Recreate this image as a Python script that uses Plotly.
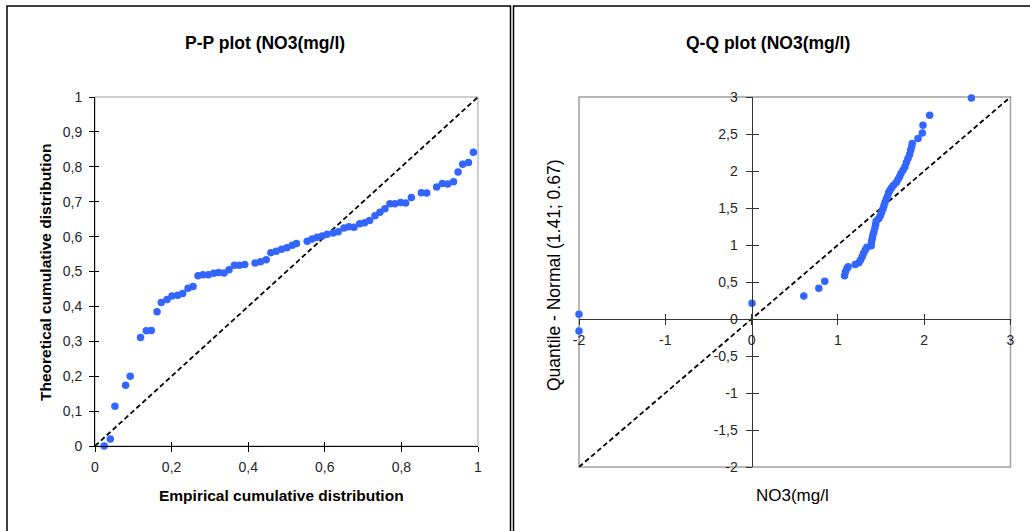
import plotly.graph_objects as go

W, H = 1030, 531

# ---------------- data ----------------
pp_empirical = [0.024, 0.040, 0.052, 0.080, 0.092, 0.119, 0.134, 0.147, 0.162, 0.173,
                0.188, 0.201, 0.216, 0.229, 0.243, 0.256, 0.269, 0.282, 0.296, 0.310,
                0.323, 0.337, 0.350, 0.364, 0.377, 0.391, 0.418, 0.432, 0.447, 0.459,
                0.473, 0.487, 0.501, 0.515, 0.526, 0.554, 0.567, 0.580, 0.593, 0.606,
                0.622, 0.635, 0.650, 0.663, 0.676, 0.691, 0.704, 0.717, 0.731, 0.744,
                0.757, 0.770, 0.783, 0.798, 0.811, 0.826, 0.852, 0.866, 0.892, 0.907,
                0.921, 0.936, 0.948, 0.960, 0.975, 0.988]
pp_theoretical = [0.000, 0.020, 0.114, 0.174, 0.200, 0.311, 0.330, 0.331, 0.385, 0.411,
                  0.420, 0.430, 0.432, 0.437, 0.452, 0.457, 0.488, 0.491, 0.491, 0.495,
                  0.497, 0.496, 0.505, 0.518, 0.518, 0.520, 0.524, 0.528, 0.534, 0.554,
                  0.558, 0.564, 0.568, 0.575, 0.580, 0.587, 0.593, 0.598, 0.602, 0.607,
                  0.610, 0.614, 0.625, 0.628, 0.627, 0.637, 0.640, 0.646, 0.660, 0.670,
                  0.680, 0.694, 0.694, 0.698, 0.696, 0.712, 0.726, 0.725, 0.742, 0.752,
                  0.751, 0.757, 0.785, 0.807, 0.812, 0.842]
pp_diag = [0, 1]

qq_no3 = [-2.0, -2.0, 0.005, 0.605, 0.779, 0.848, 1.077, 1.088, 1.104, 1.119,
          1.200, 1.243, 1.262, 1.282, 1.297, 1.317, 1.336, 1.386, 1.390, 1.398,
          1.406, 1.417, 1.429, 1.437, 1.444, 1.475, 1.491, 1.506, 1.522, 1.533,
          1.545, 1.560, 1.576, 1.587, 1.603, 1.622, 1.645, 1.676, 1.696, 1.715,
          1.731, 1.754, 1.777, 1.793, 1.812, 1.831, 1.843, 1.854, 1.862, 1.928,
          1.978, 1.986, 2.063, 2.547]
qq_normal = [0.064, -0.161, 0.212, 0.311, 0.415, 0.509, 0.585, 0.639, 0.684, 0.707,
             0.738, 0.761, 0.797, 0.842, 0.887, 0.932, 0.968, 0.990, 1.044, 1.089,
             1.134, 1.179, 1.233, 1.278, 1.323, 1.359, 1.395, 1.440, 1.485, 1.530,
             1.575, 1.620, 1.660, 1.705, 1.741, 1.772, 1.808, 1.844, 1.885, 1.921,
             1.966, 2.011, 2.056, 2.114, 2.168, 2.222, 2.281, 2.326, 2.371, 2.438,
             2.514, 2.618, 2.753, 2.987]
qq_diag = [-2, 3]

qq_xticks = [-2, -1, 0, 1, 2, 3]
qq_xtext = ["-2", "-1", "0", "1", "2", "3"]
qq_yticks = [-2, -1.5, -1, -0.5, 0, 0.5, 1, 1.5, 2, 2.5, 3]
qq_ytext = ["-2", "-1,5", "-1", "-0,5", "0", "0,5", "1", "1,5", "2", "2,5", "3"]

# ---------------- styles ----------------
FONT = "Liberation Sans, Arial, sans-serif"
BLUE = "rgb(51,102,255)"
TICKFONT = dict(family=FONT, size=14, color="#262626")
DASH = dict(color="black", width=1.8, dash="5px,3px")


def px_x(p):
    return p / W


def px_y(p):
    return 1 - p / H


# plot area pixels
L_x0, L_x1, L_y0, L_y1 = 95, 478, 97, 446
R_x0, R_x1, R_y0, R_y1 = 579, 1010.5, 97, 467

fig = go.Figure()

fig.add_trace(go.Scatter(x=pp_diag, y=pp_diag, mode="lines", line=DASH,
                         xaxis="x", yaxis="y", hoverinfo="skip", cliponaxis=False))
fig.add_trace(go.Scatter(x=pp_empirical, y=pp_theoretical, mode="markers",
                         marker=dict(color=BLUE, size=7.5),
                         xaxis="x", yaxis="y", cliponaxis=False))

fig.add_trace(go.Scatter(x=qq_diag, y=qq_diag, mode="lines", line=DASH,
                         xaxis="x2", yaxis="y2", hoverinfo="skip", cliponaxis=False))
fig.add_trace(go.Scatter(x=qq_no3, y=qq_normal, mode="markers",
                         marker=dict(color=BLUE, size=7.5),
                         xaxis="x2", yaxis="y2", cliponaxis=False))

Ldx = [px_x(L_x0), px_x(L_x1)]
Ldy = [px_y(L_y1), px_y(L_y0)]
Rdx = [px_x(R_x0), px_x(R_x1)]
Rdy = [px_y(R_y1), px_y(R_y0)]

common = dict(showgrid=False, zeroline=False, tickfont=TICKFONT, fixedrange=True,
              automargin=False)

x_zero_pos = px_y(R_y0 + (R_y1 - R_y0) * 3 / 5)
y_zero_pos = px_x(R_x0 + (R_x1 - R_x0) * 2 / 5)

fig.update_layout(
    width=W, height=H, autosize=False,
    margin=dict(l=0, r=0, t=0, b=0, pad=0, autoexpand=False),
    paper_bgcolor="white", plot_bgcolor="white",
    showlegend=False,
    separators=", ",
    font=dict(family=FONT, size=12, color="#222"),
    # ---- P-P plot ----
    xaxis=dict(domain=Ldx, anchor="y", range=[0, 1], dtick=0.2, tick0=0,
               showline=True, linecolor="black", linewidth=1,
               ticks="outside", ticklen=5, tickcolor="black", ticklabelstandoff=3,
               **common),
    yaxis=dict(domain=Ldy, anchor="x", range=[0, 1], dtick=0.1, tick0=0,
               showline=True, linecolor="black", linewidth=1,
               ticks="outside", ticklen=5, tickcolor="black", ticklabelstandoff=4,
               **common),
    xaxis3=dict(overlaying="x", anchor="y", range=[0, 1], dtick=0.2, tick0=0,
                showline=False, ticks="inside", ticklen=4, tickcolor="black",
                showticklabels=False, **common),
    yaxis3=dict(overlaying="y", anchor="x", range=[0, 1], dtick=0.1, tick0=0,
                showline=False, ticks="inside", ticklen=4, tickcolor="black",
                showticklabels=False, **common),
    # ---- Q-Q plot ----
    xaxis2=dict(domain=Rdx, anchor="free", position=x_zero_pos, range=[-2, 3],
                tickvals=qq_xticks, ticktext=qq_xtext,
                showline=True, linecolor="#333", linewidth=1,
                ticks="outside", ticklen=5, tickcolor="#333", ticklabelstandoff=3,
                **common),
    yaxis2=dict(domain=Rdy, anchor="free", position=y_zero_pos, range=[-2, 3],
                tickvals=qq_yticks, ticktext=qq_ytext,
                showline=True, linecolor="#333", linewidth=1,
                ticks="outside", ticklen=6, tickcolor="#333", ticklabelstandoff=5,
                **common),
    xaxis4=dict(overlaying="x2", anchor="free", position=x_zero_pos, range=[-2, 3],
                tickvals=qq_xticks, showline=False, ticks="inside", ticklen=5,
                tickcolor="#333", showticklabels=False, **common),
    yaxis4=dict(overlaying="y2", anchor="free", position=y_zero_pos, range=[-2, 3],
                tickvals=qq_yticks, showline=False, ticks="inside", ticklen=6,
                tickcolor="#333", showticklabels=False, **common),
)

# invisible traces to activate overlay axes
fig.add_trace(go.Scatter(x=[None], y=[None], xaxis="x3", yaxis="y3", hoverinfo="skip"))
fig.add_trace(go.Scatter(x=[None], y=[None], xaxis="x4", yaxis="y4", hoverinfo="skip"))

shapes = [
    dict(type="rect", xref="x domain", yref="y domain", x0=0, x1=1, y0=0, y1=1,
         line=dict(color="#a0a0a0", width=1), layer="below"),
    dict(type="rect", xref="x2 domain", yref="y2 domain", x0=0, x1=1, y0=0, y1=1,
         line=dict(color="#a0a0a0", width=1.5), layer="below"),
    dict(type="rect", xref="paper", yref="paper", x0=px_x(7), x1=px_x(510.5),
         y0=-0.05, y1=px_y(6), line=dict(color="black", width=1.5), layer="below"),
    dict(type="rect", xref="paper", yref="paper", x0=px_x(513.5), x1=1.05,
         y0=-0.05, y1=px_y(6), line=dict(color="black", width=1.5), layer="below"),
]
fig.update_layout(shapes=shapes)

ann = [
    dict(text="P-P plot (NO3(mg/l)", x=px_x(265), y=px_y(43),
         font=dict(family=FONT, size=17.5, color="black", weight="bold")),
    dict(text="Q-Q plot (NO3(mg/l)", x=px_x(768), y=px_y(43),
         font=dict(family=FONT, size=17.5, color="black", weight="bold")),
    dict(text="Empirical cumulative distribution", x=px_x(281), y=px_y(495),
         font=dict(family=FONT, size=15.5, color="black", weight="bold")),
    dict(text="Theoretical cumulative distribution", x=px_x(45), y=px_y(272),
         textangle=-90, font=dict(family=FONT, size=15.5, color="black", weight="bold")),
    dict(text="NO3(mg/l", x=px_x(792), y=px_y(495),
         font=dict(family=FONT, size=17, color="black")),
    dict(text="Quantile - Normal (1.41; 0.67)", x=px_x(554), y=px_y(275),
         textangle=-90, font=dict(family=FONT, size=17.5, color="black")),
]
for a in ann:
    a.update(xref="paper", yref="paper", showarrow=False, xanchor="center", yanchor="middle")
fig.update_layout(annotations=ann)

fig.write_html(
    "out.html",
    config={"displayModeBar": False, "responsive": False},
    post_script="document.body.style.margin='0';document.body.style.overflow='hidden';"
                "document.documentElement.style.overflow='hidden';",
)
